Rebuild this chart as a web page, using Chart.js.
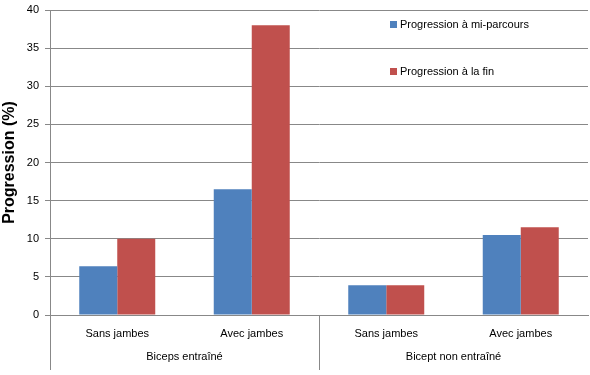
<!DOCTYPE html>
<html>
<head>
<meta charset="utf-8">
<script src="https://cdn.jsdelivr.net/npm/chart.js@4/dist/chart.umd.min.js"></script>
<style>
  html, body { margin: 0; padding: 0; background: #fff; }
  #wrap { width: 590px; height: 375px; }
</style>
</head>
<body>
<div id="wrap"><canvas id="myChart"></canvas></div>
<script>
const categories = ['Sans jambes', 'Avec jambes', 'Sans jambes', 'Avec jambes'];
const groups = ['Biceps entraîné', 'Bicept non entraîné'];
const miParcours = [6.4, 16.5, 3.9, 10.5];
const fin = [10, 38, 3.9, 11.5];
const yTicks = [0, 5, 10, 15, 20, 25, 30, 35, 40];

const FONT = "'Liberation Sans', Arial, sans-serif";

// axe multi-niveaux + légende dans la zone du graphique
const excelExtras = {
    id: 'excelExtras',
    afterDraw(chart) {
        const ctx = chart.ctx;
        const area = chart.chartArea;
        const n = categories.length;
        const step = (area.right - area.left) / n;
        ctx.save();
        ctx.strokeStyle = '#888';
        ctx.lineWidth = 1;
        // séparateurs de groupes
        const seps = [area.left, area.left + step * 2];
        seps.forEach(function (sx) {
            const px = Math.round(sx) + 0.5;
            ctx.beginPath();
            ctx.moveTo(px, area.bottom);
            ctx.lineTo(px, 370);
            ctx.stroke();
        });
        ctx.fillStyle = '#000';
        ctx.font = '11px ' + FONT;
        ctx.textAlign = 'center';
        ctx.textBaseline = 'middle';
        groups.forEach(function (g, i) {
            const cx = area.left + step * (i * 2 + 1);
            ctx.fillText(g, cx, 357);
        });
        // légende
        ctx.textAlign = 'left';
        chart.data.datasets.forEach(function (ds, i) {
            const ly = 25 + i * 47;
            ctx.fillStyle = ds.backgroundColor;
            ctx.fillRect(390, ly - 4, 7, 7);
            ctx.fillStyle = '#000';
            ctx.fillText(ds.label, 400, ly);
        });
        ctx.restore();
    }
};

new Chart(document.getElementById('myChart'), {
    type: 'bar',
    data: {
        labels: categories,
        datasets: [{
            label: 'Progression à mi-parcours',
            data: miParcours,
            backgroundColor: '#4F81BD',
            categoryPercentage: 0.565,
            barPercentage: 1
        }, {
            label: 'Progression à la fin',
            data: fin,
            backgroundColor: '#C0504D',
            categoryPercentage: 0.565,
            barPercentage: 1
        }]
    },
    options: {
        responsive: true,
        maintainAspectRatio: false,
        animation: false,
        layout: { padding: { top: 10, right: 2, left: 0, bottom: 0 } },
        plugins: {
            legend: { display: false },
            tooltip: { enabled: false }
        },
        scales: {
            x: {
                grid: { display: false },
                border: { color: '#888' },
                ticks: { color: '#000', font: { family: FONT, size: 11 }, padding: 4, maxRotation: 0 },
                afterFit(scale) { scale.height = 60; }
            },
            y: {
                min: 0,
                max: 40,
                afterBuildTicks(scale) { scale.ticks = yTicks.map(v => ({ value: v })); },
                grid: { color: '#888', tickLength: 5 },
                border: { color: '#888' },
                ticks: { color: '#000', font: { family: FONT, size: 11, lineHeight: 0.9 }, padding: 6 },
                title: {
                    display: true,
                    text: 'Progression (%)',
                    color: '#000',
                    font: { family: FONT, size: 16, weight: 'bold' },
                    padding: { top: 0, bottom: 2 }
                },
                afterFit(scale) {
                    scale.width = 50;
                    scale.paddingTop = 0;
                }
            }
        }
    },
    plugins: [excelExtras]
});
</script>
</body>
</html>
